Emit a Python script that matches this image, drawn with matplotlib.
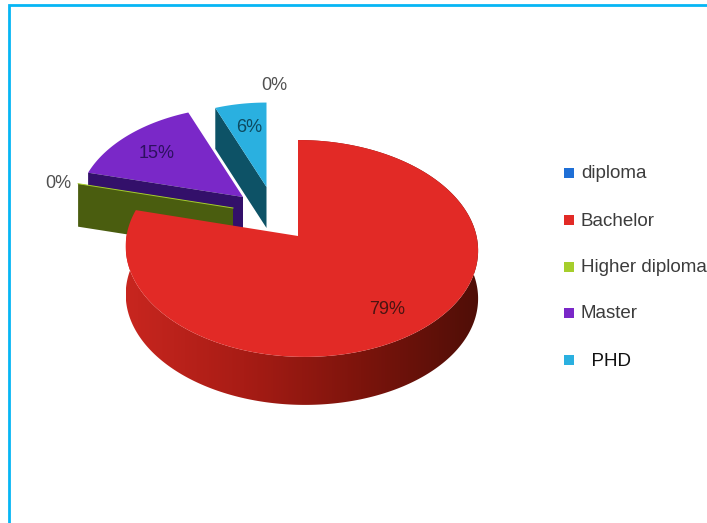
import numpy as np
import matplotlib
matplotlib.use("Agg")
import matplotlib.pyplot as plt
from matplotlib.colors import LinearSegmentedColormap
from matplotlib.patches import Polygon

categories = ["diploma", "Bachelor", "Higher diploma", "Master", "PHD"]
percent = [0, 79, 0, 15, 6]
legend_labels = ["diploma", "Bachelor", "Higher diploma", "Master", "  PHD"]

top_colors = ["#1f6fd6", "#e22a26", "#a6ce2c", "#7a28c8", "#2ab0e0"]
wall_colors = ["#123f7a", "#8c1810", "#4a5d0f", "#33106a", "#0d5266"]
label_colors = ["#505050", "#4a1412", "#505050", "#2d1060", "#0d4a60"]

# apex of each slice in pixels, its size and how deep the side goes
apex_x = [267, 298, 233, 243, 266.5]
apex_y = [187, 236, 208, 197, 187]
scales = [0.88, 1.0, 0.94, 0.94, 0.88]
depths = [41, 48, 43, 43, 41]
skews = [0, 3.5, 0, 0, 0]
label_x = [274, 387, 58, 157, 249]
label_y = [85, 309, 184, 153, 127]

RX = 175
RY = 107
PERSP = 0.115
FONT = ["Liberation Sans", "DejaVu Sans"]


def rim(theta, i):
    # perspective view of the pie disc, theta clockwise from 12 o'clock
    u, v = np.sin(theta), np.cos(theta)
    w = 1 + PERSP * v
    x = apex_x[i] + scales[i] * RX * u / w + skews[i] * (1 - v)
    y = apex_y[i] - scales[i] * RY * v / w
    return x, y


fig = plt.figure(figsize=(7.07, 5.23), dpi=100)
ax = fig.add_axes([0, 0, 1, 1])
ax.axis("off")

# frame only on the left and top
ax.plot([9, 9, 707], [523, 5, 5], color="#06b6f4", linewidth=2.0, solid_joinstyle="miter")

edges = np.deg2rad(np.cumsum([0] + percent) * 3.6)
red_cmap = LinearSegmentedColormap.from_list("side", ["#c8261f", "#a81c15", "#7c140c", "#4f0e07"])

# back to front: Master, Higher diploma, PHD, Bachelor
for i in [3, 2, 4, 1]:
    start, end = edges[i], edges[i + 1]
    ax_x, ax_y = apex_x[i], apex_y[i]
    d = depths[i]

    if i == 1:
        # curved outer side, gradient image clipped to the side shape
        t = np.linspace(start, end, 300)
        xs, ys = rim(t, i)
        side = Polygon(np.c_[np.r_[xs, xs[::-1]], np.r_[ys, ys[::-1] + d]],
                       closed=True, transform=ax.transData, facecolor="none", edgecolor="none")
        ax.add_patch(side)
        im = ax.imshow(np.linspace(0, 1, 256).reshape(1, -1), cmap=red_cmap, aspect="auto",
                       extent=(xs.min(), xs.max(), ys.max() + d, ys.min()), zorder=2)
        im.set_clip_path(side)
    else:
        # flat cut side of the slice
        ox, oy = rim(start, i)
        ax.fill([ax_x, ox, ox, ax_x], [ax_y, oy, oy + d, ax_y + d],
                color=wall_colors[i], linewidth=0, zorder=5 + (i == 2))
        if i == 2:
            ax.plot([ox, ax_x], [oy, ax_y], color=top_colors[i], linewidth=0.7, zorder=6)

    if percent[i] > 0:
        t = np.linspace(start, end, 200)
        xs, ys = rim(t, i)
        z = 10 if i == 1 else 4 if i == 3 else 7
        ax.fill(np.r_[ax_x, xs], np.r_[ax_y, ys], color=top_colors[i], linewidth=0, zorder=z)

for i, p in enumerate(percent):
    ax.text(label_x[i], label_y[i], f"{p}%", color=label_colors[i], fontsize=13,
            family=FONT, ha="center", va="center", zorder=20)

legend_y = [173, 220, 267, 313, 360]
for i, name in enumerate(legend_labels):
    ax.scatter([569], [legend_y[i]], marker="s", s=58, color=top_colors[i], linewidths=0, zorder=20)
    ax.text(581, legend_y[i] + 1, name, fontsize=13.5, family=FONT, va="center", ha="left",
            color="#111111" if i == 4 else "#3c3c3c", zorder=20)

ax.set_xlim(0, 707)
ax.set_ylim(523, 0)
fig.savefig("out.png", dpi=100)
